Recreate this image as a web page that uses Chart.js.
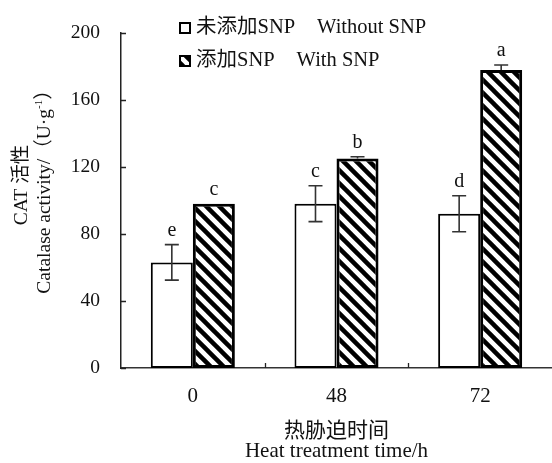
<!DOCTYPE html>
<html>
<head>
<meta charset="utf-8">
<script src="https://cdn.jsdelivr.net/npm/chart.js@4.4.1/dist/chart.umd.min.js"></script>
<style>
  html, body { margin: 0; padding: 0; background: #fff; }
  #wrap { width: 552px; height: 463px; position: relative; }
</style>
</head>
<body>
<div id="wrap"><canvas id="c" width="552" height="463"></canvas></div>
<script>
// ---- data ----
const categories = ['0', '48', '72'];
const withoutSNP = [63, 98, 92];
const withoutErr = [10.6, 10.7, 10.7];
const withSNP = [98, 125, 177.7];
const withErr = [0, 1, 3];
const withoutLetters = ['e', 'c', 'd'];
const withLetters = ['c', 'b', 'a'];
const yMin = 0, yMax = 200, yStep = 40;
const legendCN = ['未添加SNP', '添加SNP'];
const legendEN = ['Without SNP', 'With SNP'];
const yTitleLine1 = 'CAT 活性';
const yTitleLine2 = 'Catalase activity/（U·g';
const yTitleSup = '-1';
const yTitleEnd = '）';
const xTitleLines = ['热胁迫时间', 'Heat treatment time/h'];

const FONT = '"Liberation Serif", "Times New Roman", "Noto Sans CJK SC", serif';

const canvas = document.getElementById('c');
const ctx0 = canvas.getContext('2d');

function makeHatch() {
  const s = 13;
  const c = document.createElement('canvas');
  c.width = s; c.height = s;
  const g = c.getContext('2d');
  g.fillStyle = '#fff';
  g.fillRect(0, 0, s, s);
  g.strokeStyle = '#000';
  g.lineWidth = 4.5;
  for (const k of [-1, 0, 1]) {
    g.beginPath();
    g.moveTo(k * s - 3, -3);
    g.lineTo(k * s + s + 3, s + 3);
    g.stroke();
  }
  return ctx0.createPattern(c, 'repeat');
}
const hatch = makeHatch();

const decor = {
  id: 'decor',
  afterDatasetsDraw(chart) {
    const ctx = chart.ctx;
    const ys = chart.scales.y, xs = chart.scales.x;
    const area = chart.chartArea;
    ctx.save();
    // error bars + letters
    const sets = [[withoutSNP, withoutErr, withoutLetters, true], [withSNP, withErr, withLetters, false]];
    sets.forEach((set, di) => {
      const meta = chart.getDatasetMeta(di);
      meta.data.forEach((bar, j) => {
        const v = set[0][j], e = set[1][j];
        const x = bar.x;
        const yt = ys.getPixelForValue(v + e);
        const yb = set[3] ? ys.getPixelForValue(v - e) : ys.getPixelForValue(v);
        if (e > 0) {
          ctx.strokeStyle = '#333';
          ctx.lineWidth = 1.6;
          ctx.beginPath();
          ctx.moveTo(x, yt); ctx.lineTo(x, yb);
          ctx.moveTo(x - 7, yt); ctx.lineTo(x + 7, yt);
          if (set[3]) { ctx.moveTo(x - 7, yb); ctx.lineTo(x + 7, yb); }
          ctx.stroke();
        }
        ctx.fillStyle = '#111';
        ctx.font = '20px ' + FONT;
        ctx.textAlign = 'center';
        ctx.textBaseline = 'alphabetic';
        ctx.fillText(set[2][j], x, yt - 9);
      });
    });
    // inward ticks
    ctx.strokeStyle = '#222';
    ctx.lineWidth = 1.3;
    ctx.beginPath();
    ys.ticks.forEach(t => {
      const p = Math.round(ys.getPixelForValue(t.value)) + 0.5;
      ctx.moveTo(area.left, p); ctx.lineTo(area.left + 5, p);
    });
    for (let j = 1; j < categories.length; j++) {
      const p = Math.round((xs.getPixelForValue(j - 1) + xs.getPixelForValue(j)) / 2) + 0.5;
      ctx.moveTo(p, area.bottom); ctx.lineTo(p, area.bottom - 5);
    }
    ctx.stroke();
    // legend
    const boxX = 180, rows = [28, 61];
    ctx.font = '20.5px ' + FONT;
    ctx.textAlign = 'left';
    ctx.textBaseline = 'middle';
    rows.forEach((ry, i) => {
      ctx.fillStyle = i === 0 ? '#fff' : hatch;
      ctx.fillRect(boxX, ry - 5, 10, 10);
      ctx.strokeStyle = '#000';
      ctx.lineWidth = 2;
      ctx.strokeRect(boxX, ry - 5, 10, 10);
      ctx.fillStyle = '#111';
      ctx.fillText(legendCN[i], 196, ry);
      const w = ctx.measureText(legendCN[i]).width;
      ctx.fillText(legendEN[i], 196 + w + 22, ry);
    });
    // x title
    ctx.font = '21px ' + FONT;
    ctx.textAlign = 'center';
    const cx = (area.left + area.right) / 2;
    ctx.fillText(xTitleLines[0], cx, 431);
    ctx.fillText(xTitleLines[1], cx, 451);
    // y title
    ctx.font = '19.5px ' + FONT;
    ctx.save();
    ctx.translate(22, 185);
    ctx.rotate(-Math.PI / 2);
    ctx.fillText(yTitleLine1, 0, 0);
    ctx.restore();
    ctx.save();
    ctx.translate(45, 187);
    ctx.rotate(-Math.PI / 2);
    ctx.textAlign = 'left';
    ctx.font = '19.5px ' + FONT;
    const w1 = ctx.measureText(yTitleLine2).width;
    const w3 = ctx.measureText(yTitleEnd).width;
    ctx.font = '11px ' + FONT;
    const w2 = ctx.measureText(yTitleSup).width;
    let sx = -(w1 + w2 + w3) / 2;
    ctx.font = '19.5px ' + FONT;
    ctx.fillText(yTitleLine2, sx, 0);
    ctx.font = '11px ' + FONT;
    ctx.fillText(yTitleSup, sx + w1, -6);
    ctx.font = '19.5px ' + FONT;
    ctx.fillText(yTitleEnd, sx + w1 + w2, 0);
    ctx.restore();
    ctx.restore();
  }
};

new Chart(canvas, {
  type: 'bar',
  data: {
    labels: categories,
    datasets: [
      { label: legendCN[0], data: withoutSNP, backgroundColor: '#fff', borderColor: '#000', borderWidth: 2, borderSkipped: false },
      { label: legendCN[1], data: withSNP, backgroundColor: hatch, borderColor: '#000', borderWidth: 3, borderSkipped: false }
    ]
  },
  options: {
    responsive: false,
    animation: false,
    devicePixelRatio: 1,
    layout: { padding: { top: 20, right: 0, left: 0, bottom: 0 } },
    plugins: { legend: { display: false }, tooltip: { enabled: false } },
    datasets: { bar: { categoryPercentage: 0.585, barPercentage: 1 } },
    scales: {
      x: {
        grid: { display: false, drawTicks: false },
        border: { display: true, color: '#333', width: 1.5 },
        ticks: { color: '#111', font: { family: FONT, size: 21 }, padding: 16 },
        afterFit(s) { s.height = 95; }
      },
      y: {
        min: yMin, max: yMax,
        grid: { display: false, drawTicks: false },
        border: { display: true, color: '#222', width: 1.5 },
        ticks: { stepSize: yStep, color: '#111', font: { family: FONT, size: 19.5 }, padding: 21 },
        afterFit(s) { s.width = 121; }
      }
    }
  },
  plugins: [decor]
});
</script>
</body>
</html>
